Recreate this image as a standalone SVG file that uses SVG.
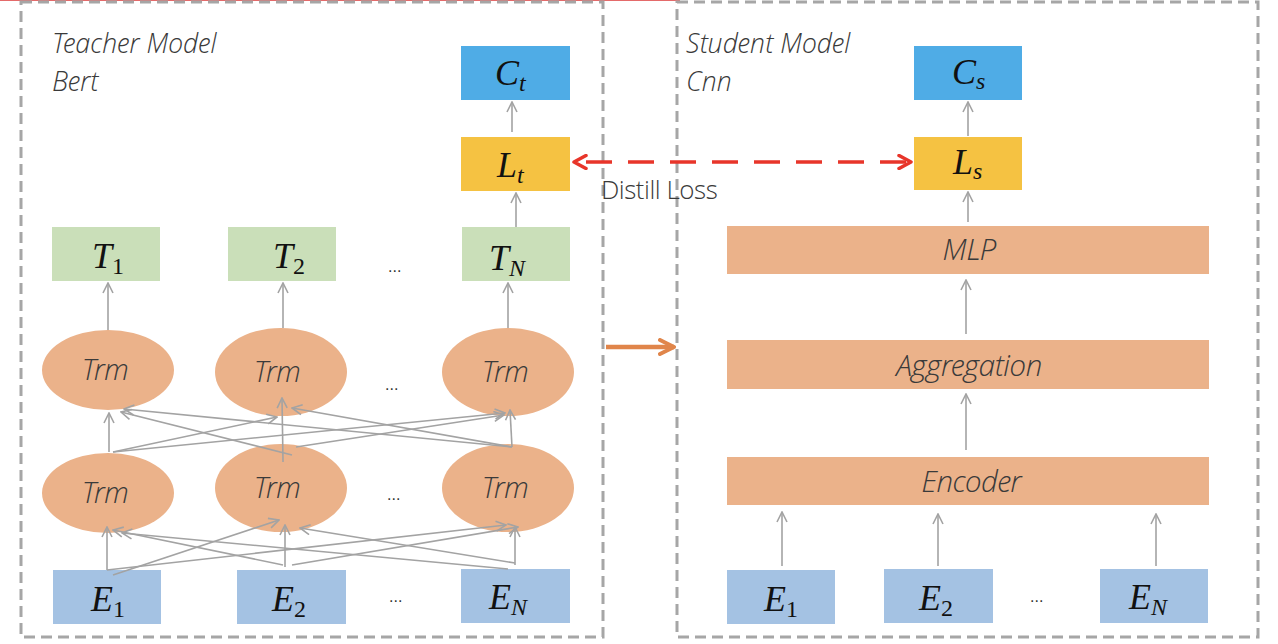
<svg xmlns="http://www.w3.org/2000/svg" width="1278" height="644" viewBox="0 0 1278 644">
<style>
.frame{fill:none;stroke:#A6A6A6;stroke-width:3;stroke-dasharray:11 6}
.blue{fill:#4FACE6}
.yellow{fill:#F5C242}
.green{fill:#CADFB9}
.peach{fill:#EBB28A}
.emb{fill:#A4C2E3}
.conn line{stroke:#A3A3A3;stroke-width:1.6;fill:none;marker-end:url(#ga)}
.lbl{font-family:"Open Sans Light","Lato Light","Open Sans","Noto Sans",sans-serif;font-style:italic;font-weight:300;fill:#3A3A3A;letter-spacing:-0.5px}
.title{font-size:27px;letter-spacing:0}
.upright{font-style:normal;font-size:26px}
.math{font-family:"Liberation Serif","DejaVu Serif",serif;font-style:italic;fill:#111111;font-size:36px}
.sub{font-style:normal;font-size:24px}
.subi{font-style:italic;font-size:24px}
.dots{font-family:"Liberation Sans",sans-serif;font-size:16px;fill:#333333}
</style>
<defs>
<marker id="ga" viewBox="0 0 12 12" refX="11" refY="6" markerWidth="12" markerHeight="12" markerUnits="userSpaceOnUse" orient="auto">
<path d="M1,1 L11,6 L1,11" fill="none" stroke="#A3A3A3" stroke-width="1.6"/>
</marker>
<marker id="ra" viewBox="0 0 16 16" refX="14" refY="8" markerWidth="16" markerHeight="16" markerUnits="userSpaceOnUse" orient="auto-start-reverse">
<path d="M2,1.5 L14,8 L2,14.5" fill="none" stroke="#E8352A" stroke-width="3.5" stroke-linecap="round" stroke-linejoin="round"/>
</marker>
<marker id="oa" viewBox="0 0 18 18" refX="16" refY="9" markerWidth="18" markerHeight="18" markerUnits="userSpaceOnUse" orient="auto">
<path d="M2,2 L16,9 L2,16" fill="none" stroke="#E0854A" stroke-width="4" stroke-linecap="round" stroke-linejoin="round"/>
</marker>
</defs>
<rect width="1278" height="644" fill="#ffffff"/>
<line x1="0" y1="0.5" x2="680" y2="0.5" stroke="#E46A6A" stroke-width="1"/>

<g id="teacher-frame"><rect class="frame" x="21" y="2" width="582" height="635"/></g>
<g id="student-frame"><rect class="frame" x="677" y="2" width="581" height="635"/></g>

<g id="teacher-title">
<text class="lbl title" x="52" y="53">Teacher Model</text>
<text class="lbl title" x="52" y="91">Bert</text>
</g>
<g id="student-title">
<text class="lbl title" x="686" y="53">Student Model</text>
<text class="lbl title" x="686" y="91">Cnn</text>
</g>

<g id="Ct"><rect class="blue" x="461" y="46" width="109" height="54"/><text class="math" x="495" y="85">C<tspan class="subi" dy="6">t</tspan></text></g>
<g id="Lt"><rect class="yellow" x="461" y="137" width="109" height="54"/><text class="math" x="497" y="177">L<tspan class="subi" dy="6">t</tspan></text></g>
<g id="T1"><rect class="green" x="52" y="227" width="108" height="54"/><text class="math" x="92" y="268">T<tspan class="sub" dy="6">1</tspan></text></g>
<g id="T2"><rect class="green" x="228" y="227" width="108" height="54"/><text class="math" x="273" y="268">T<tspan class="sub" dy="6">2</tspan></text></g>
<g id="TN"><rect class="green" x="462" y="227" width="108" height="54"/><text class="math" x="489" y="270">T<tspan class="subi" dy="6">N</tspan></text></g>
<text class="dots" x="388" y="272">...</text>

<g id="Trm11"><ellipse class="peach" cx="108" cy="370" rx="66" ry="40"/><text class="lbl" x="105" y="380" font-size="29" text-anchor="middle">Trm</text></g>
<g id="Trm12"><ellipse class="peach" cx="281" cy="372" rx="66" ry="44"/><text class="lbl" x="277" y="382" font-size="29" text-anchor="middle">Trm</text></g>
<g id="Trm13"><ellipse class="peach" cx="508" cy="372" rx="66" ry="44"/><text class="lbl" x="505" y="382" font-size="29" text-anchor="middle">Trm</text></g>
<text class="dots" x="385" y="390">...</text>

<g id="Trm21"><ellipse class="peach" cx="108" cy="493" rx="66" ry="40"/><text class="lbl" x="105" y="503" font-size="29" text-anchor="middle">Trm</text></g>
<g id="Trm22"><ellipse class="peach" cx="281" cy="488" rx="66" ry="44"/><text class="lbl" x="277" y="498" font-size="29" text-anchor="middle">Trm</text></g>
<g id="Trm23"><ellipse class="peach" cx="508" cy="488" rx="66" ry="44"/><text class="lbl" x="505" y="498" font-size="29" text-anchor="middle">Trm</text></g>
<text class="dots" x="387" y="500">...</text>

<g id="E1t"><rect class="emb" x="53" y="570" width="108" height="54"/><text class="math" x="91" y="611">E<tspan class="sub" dy="6">1</tspan></text></g>
<g id="E2t"><rect class="emb" x="237" y="570" width="109" height="54"/><text class="math" x="272" y="611">E<tspan class="sub" dy="6">2</tspan></text></g>
<g id="ENt"><rect class="emb" x="461" y="569" width="109" height="54"/><text class="math" x="489" y="609">E<tspan class="subi" dy="6">N</tspan></text></g>
<text class="dots" x="389" y="602">...</text>

<g id="Cs"><rect class="blue" x="914" y="46" width="108" height="54"/><text class="math" x="952" y="84" font-size="28">C<tspan class="subi" font-size="19" dy="5">s</tspan></text></g>
<g id="Ls"><rect class="yellow" x="914" y="137" width="108" height="53"/><text class="math" x="953" y="174" font-size="28">L<tspan class="subi" font-size="19" dy="5">s</tspan></text></g>
<g id="MLP"><rect class="peach" x="727" y="226" width="482" height="48"/><text class="lbl" x="969" y="260" font-size="30" text-anchor="middle">MLP</text></g>
<g id="Aggregation"><rect class="peach" x="727" y="340" width="482" height="49"/><text class="lbl" x="969" y="376" font-size="30" text-anchor="middle">Aggregation</text></g>
<g id="Encoder"><rect class="peach" x="727" y="457" width="482" height="48"/><text class="lbl" x="971" y="492" font-size="30" text-anchor="middle">Encoder</text></g>
<g id="E1s"><rect class="emb" x="727" y="570" width="108" height="54"/><text class="math" x="764" y="611">E<tspan class="sub" dy="6">1</tspan></text></g>
<g id="E2s"><rect class="emb" x="884" y="569" width="109" height="54"/><text class="math" x="919" y="610">E<tspan class="sub" dy="6">2</tspan></text></g>
<g id="ENs"><rect class="emb" x="1100" y="569" width="108" height="54"/><text class="math" x="1129" y="609">E<tspan class="subi" dy="6">N</tspan></text></g>
<text class="dots" x="1030" y="602">...</text>

<g id="connectors">
<g class="conn">
<line x1="512" y1="132" x2="512" y2="102"/>
<line x1="516" y1="227" x2="516" y2="193"/>
<line x1="108" y1="330" x2="108" y2="283"/>
<line x1="283" y1="328" x2="283" y2="283"/>
<line x1="508" y1="328" x2="508" y2="283"/>

<line x1="109" y1="452" x2="109" y2="413"/>
<line x1="113" y1="452" x2="277" y2="417"/>
<line x1="113" y1="452" x2="505" y2="413"/>
<line x1="292" y1="455" x2="121" y2="412"/>
<line x1="283" y1="462" x2="282" y2="398"/>
<line x1="296" y1="447" x2="504" y2="415"/>
<line x1="512" y1="447" x2="124" y2="409"/>
<line x1="512" y1="447" x2="292" y2="408"/>
<line x1="512" y1="447" x2="510" y2="410"/>

<line x1="107" y1="570" x2="107" y2="527"/>
<line x1="113" y1="575" x2="279" y2="520"/>
<line x1="107" y1="570" x2="506" y2="525"/>
<line x1="283" y1="565" x2="113" y2="530"/>
<line x1="285" y1="567" x2="285" y2="525"/>
<line x1="292" y1="565" x2="518" y2="527"/>
<line x1="508" y1="569" x2="122" y2="533"/>
<line x1="515" y1="563" x2="300" y2="528"/>
<line x1="515" y1="565" x2="515" y2="527"/>

<line x1="968" y1="136" x2="968" y2="102"/>
<line x1="968" y1="222" x2="968" y2="192"/>
<line x1="966" y1="334" x2="966" y2="280"/>
<line x1="966" y1="450" x2="966" y2="394"/>
<line x1="782" y1="566" x2="782" y2="512"/>
<line x1="938" y1="566" x2="938" y2="514"/>
<line x1="1156" y1="566" x2="1156" y2="514"/>
</g>
<line x1="574" y1="162" x2="911" y2="162" stroke="#E8352A" stroke-width="3.5" stroke-dasharray="26 16" stroke-dashoffset="-12" marker-start="url(#ra)" marker-end="url(#ra)"/>
<line x1="606" y1="347" x2="674" y2="347" stroke="#E0854A" stroke-width="4.5" marker-end="url(#oa)"/>
</g>
<text class="lbl upright" x="601" y="199">Distill Loss</text>
</svg>
